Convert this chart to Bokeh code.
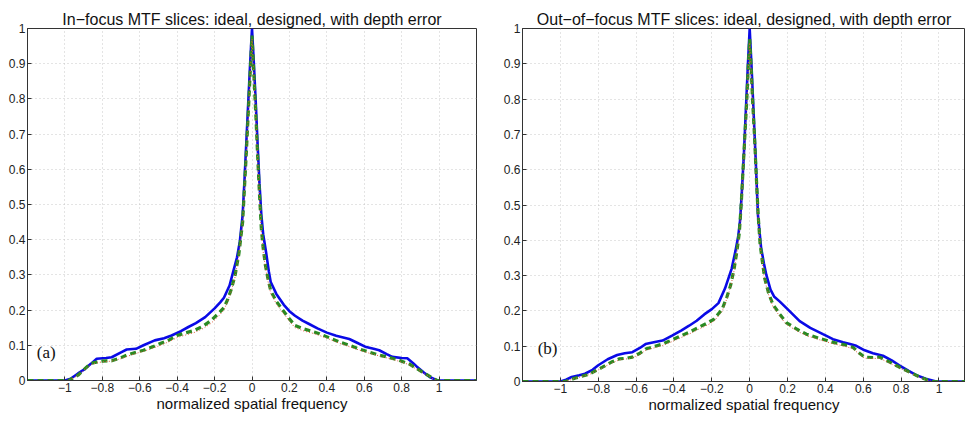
from bokeh.plotting import figure
from bokeh.layouts import row
from bokeh.models import FixedTicker, Range1d, Label
from bokeh.embed import file_html
from bokeh.resources import INLINE

# ---------------- data ----------------
titles = ["In\u2212focus MTF slices: ideal, designed, with depth error",
          "Out\u2212of\u2212focus MTF slices: ideal, designed, with depth error"]
panel_tags = ["(a)", "(b)"]
x_label = "normalized spatial frequency"

x_ticks = [-1, -0.8, -0.6, -0.4, -0.2, 0, 0.2, 0.4, 0.6, 0.8, 1]
x_tick_labels = ["\u22121", "\u22120.8", "\u22120.6", "\u22120.4", "\u22120.2", "0",
                 "0.2", "0.4", "0.6", "0.8", "1"]
y_ticks = [0, 0.1, 0.2, 0.3, 0.4, 0.5, 0.6, 0.7, 0.8, 0.9, 1]
y_tick_labels = ["0", "0.1", "0.2", "0.3", "0.4", "0.5", "0.6", "0.7", "0.8", "0.9", "1"]

# In-focus (a)
a_ideal_x = [-1.2, -1.0, -0.97, -0.93, -0.9, -0.86, -0.83, -0.78, -0.75, -0.7, -0.67, -0.62,
             -0.58, -0.52, -0.47, -0.43, -0.38, -0.34, -0.3, -0.25, -0.2, -0.17, -0.15, -0.12,
             -0.1, -0.08, -0.065, -0.05, -0.04, -0.03, -0.02, -0.01, 0.0,
             0.01, 0.02, 0.03, 0.04, 0.05, 0.06, 0.075, 0.09, 0.1, 0.13, 0.17, 0.2, 0.23, 0.27,
             0.3, 0.35, 0.4, 0.45, 0.52, 0.57, 0.61, 0.65, 0.68, 0.72, 0.75, 0.8, 0.83, 0.86,
             0.88, 0.92, 0.95, 0.99, 1.2]
a_ideal_y = [0, 0, 0.005, 0.02, 0.03, 0.048, 0.062, 0.064, 0.066, 0.08, 0.088, 0.09,
             0.1, 0.114, 0.12, 0.128, 0.14, 0.152, 0.163, 0.18, 0.205, 0.222, 0.235, 0.27,
             0.31, 0.35, 0.395, 0.47, 0.57, 0.68, 0.79, 0.9, 1.0,
             0.9, 0.79, 0.67, 0.56, 0.47, 0.415, 0.365, 0.31, 0.28, 0.246, 0.215, 0.197, 0.184, 0.17,
             0.162, 0.148, 0.136, 0.127, 0.118, 0.105, 0.095, 0.09, 0.086, 0.075, 0.067, 0.064, 0.063, 0.05,
             0.04, 0.022, 0.01, 0, 0]

a_design_x = [-1.2, -0.98, -0.93, -0.88, -0.85, -0.8, -0.75, -0.7, -0.67, -0.62, -0.58, -0.52,
              -0.49, -0.44, -0.4, -0.35, -0.31, -0.26, -0.22, -0.18, -0.15, -0.13, -0.11, -0.09,
              -0.07, -0.05, -0.04, -0.03, -0.02, -0.01, 0.0,
              0.01, 0.02, 0.03, 0.04, 0.05, 0.06, 0.072, 0.085, 0.1, 0.13, 0.16, 0.2, 0.23, 0.28,
              0.32, 0.36, 0.42, 0.47, 0.52, 0.57, 0.63, 0.68, 0.73, 0.79, 0.84, 0.88, 0.93, 0.97,
              0.99, 1.2]
a_design_y = [0, 0, 0.015, 0.04, 0.05, 0.055, 0.056, 0.065, 0.072, 0.08, 0.086, 0.098,
              0.105, 0.116, 0.128, 0.136, 0.142, 0.155, 0.17, 0.19, 0.207, 0.23, 0.26, 0.3,
              0.36, 0.45, 0.55, 0.65, 0.76, 0.87, 0.98,
              0.87, 0.76, 0.64, 0.53, 0.43, 0.375, 0.326, 0.29, 0.255, 0.225, 0.203, 0.175, 0.156, 0.146,
              0.14, 0.133, 0.12, 0.109, 0.1, 0.09, 0.08, 0.072, 0.066, 0.057, 0.047, 0.034, 0.018, 0.005,
              0, 0]

a_error_x = [-1.2, -0.98, -0.93, -0.88, -0.85, -0.8, -0.75, -0.7, -0.67, -0.62, -0.58, -0.52,
             -0.49, -0.44, -0.4, -0.35, -0.31, -0.26, -0.22, -0.18, -0.15, -0.13, -0.11, -0.09,
             -0.07, -0.05, -0.04, -0.03, -0.02, -0.01, 0.0,
             0.01, 0.02, 0.03, 0.04, 0.05, 0.06, 0.072, 0.085, 0.1, 0.13, 0.16, 0.2, 0.23, 0.28,
             0.32, 0.36, 0.42, 0.47, 0.52, 0.57, 0.63, 0.68, 0.73, 0.79, 0.84, 0.88, 0.93, 0.97,
             0.99, 1.2]
a_error_y = [0, 0, 0.014, 0.038, 0.048, 0.053, 0.055, 0.062, 0.068, 0.077, 0.083, 0.094,
             0.1, 0.111, 0.122, 0.13, 0.136, 0.148, 0.162, 0.182, 0.2, 0.225, 0.255, 0.295,
             0.355, 0.445, 0.54, 0.64, 0.75, 0.86, 0.97,
             0.86, 0.75, 0.63, 0.52, 0.42, 0.365, 0.32, 0.283, 0.248, 0.218, 0.196, 0.169, 0.15, 0.14,
             0.135, 0.128, 0.116, 0.105, 0.096, 0.087, 0.077, 0.07, 0.063, 0.054, 0.045, 0.032, 0.017, 0.004,
             0, 0]

# Out-of-focus (b)
b_ideal_x = [-1.2, -1.0, -0.97, -0.94, -0.9, -0.87, -0.83, -0.8, -0.75, -0.7, -0.66, -0.62,
             -0.58, -0.55, -0.5, -0.46, -0.41, -0.36, -0.32, -0.28, -0.24, -0.2, -0.165, -0.13,
             -0.095, -0.075, -0.06, -0.05, -0.04, -0.03, -0.02, -0.01, 0.0,
             0.01, 0.02, 0.03, 0.044, 0.06, 0.075, 0.088, 0.11, 0.13, 0.158, 0.2, 0.264, 0.32,
             0.387, 0.44, 0.493, 0.53, 0.563, 0.6, 0.651, 0.704, 0.75, 0.79, 0.84, 0.88, 0.93,
             0.985, 1.2]
b_ideal_y = [0, 0, 0.005, 0.013, 0.018, 0.022, 0.033, 0.046, 0.063, 0.075, 0.08, 0.083,
             0.095, 0.106, 0.112, 0.116, 0.13, 0.145, 0.158, 0.172, 0.19, 0.205, 0.222, 0.264,
             0.32, 0.37, 0.413, 0.46, 0.55, 0.65, 0.77, 0.89, 1.0,
             0.89, 0.77, 0.65, 0.47, 0.38, 0.335, 0.302, 0.26, 0.24, 0.227, 0.205, 0.171, 0.152,
             0.134, 0.12, 0.111, 0.106, 0.101, 0.09, 0.08, 0.073, 0.06, 0.046, 0.03, 0.018, 0.008,
             0, 0]

b_design_x = [-1.2, -0.975, -0.92, -0.85, -0.78, -0.73, -0.69, -0.65, -0.62, -0.58, -0.55, -0.5,
              -0.46, -0.41, -0.36, -0.31, -0.27, -0.23, -0.19, -0.146, -0.12, -0.1, -0.082,
              -0.068, -0.055, -0.045, -0.035, -0.025, -0.015, -0.007, 0.0,
              0.007, 0.015, 0.025, 0.035, 0.045, 0.055, 0.067, 0.079, 0.1, 0.123, 0.16, 0.193,
              0.25, 0.3, 0.37, 0.44, 0.5, 0.545, 0.58, 0.607, 0.65, 0.686, 0.74, 0.79, 0.85,
              0.897, 0.94, 0.967, 1.2]
b_design_y = [0, 0, 0.01, 0.02, 0.04, 0.055, 0.064, 0.066, 0.069, 0.08, 0.092, 0.1,
              0.106, 0.118, 0.13, 0.142, 0.153, 0.164, 0.176, 0.204, 0.24, 0.274, 0.32,
              0.367, 0.42, 0.5, 0.6, 0.7, 0.8, 0.9, 0.97,
              0.9, 0.8, 0.7, 0.58, 0.47, 0.39, 0.34, 0.293, 0.25, 0.218, 0.19, 0.167,
              0.148, 0.134, 0.122, 0.111, 0.104, 0.097, 0.08, 0.069, 0.068, 0.069, 0.055, 0.041, 0.025,
              0.013, 0.004, 0, 0]

b_error_x = [-1.2, -0.975, -0.92, -0.85, -0.78, -0.73, -0.69, -0.65, -0.62, -0.58, -0.55, -0.5,
             -0.46, -0.41, -0.36, -0.31, -0.27, -0.23, -0.19, -0.146, -0.12, -0.1, -0.082,
             -0.068, -0.055, -0.045, -0.035, -0.025, -0.015, -0.007, 0.0,
             0.007, 0.015, 0.025, 0.035, 0.045, 0.055, 0.067, 0.079, 0.1, 0.123, 0.16, 0.193,
             0.25, 0.3, 0.37, 0.44, 0.5, 0.545, 0.58, 0.607, 0.65, 0.686, 0.74, 0.79, 0.85,
             0.897, 0.94, 0.967, 1.2]
b_error_y = [0, 0, 0.009, 0.019, 0.038, 0.052, 0.061, 0.064, 0.067, 0.077, 0.088, 0.096,
             0.102, 0.113, 0.125, 0.137, 0.148, 0.158, 0.17, 0.198, 0.235, 0.27, 0.315,
             0.362, 0.415, 0.49, 0.59, 0.69, 0.79, 0.89, 0.96,
             0.89, 0.79, 0.69, 0.57, 0.46, 0.385, 0.335, 0.288, 0.245, 0.212, 0.184, 0.162,
             0.143, 0.13, 0.118, 0.107, 0.1, 0.093, 0.077, 0.066, 0.065, 0.066, 0.052, 0.039, 0.023,
             0.012, 0.003, 0, 0]

FONT = "Liberation Sans"


def make_panel(title, tag, tag_xy, ideal, design, error, x_end, width, height,
               border_left, border_right, border_top, border_bottom, title_offset):
    p = figure(width=width, height=height,
               x_range=Range1d(-1.2, x_end), y_range=Range1d(0, 1),
               output_backend="svg", toolbar_location=None,
               min_border_left=border_left, min_border_right=border_right,
               min_border_top=border_top, min_border_bottom=border_bottom)
    p.background_fill_color = "white"
    p.border_fill_color = "white"
    p.outline_line_color = "#333333"
    p.outline_line_width = 1

    p.title.text = title
    p.title.text_font = FONT
    p.title.text_font_size = "16px"
    p.title.text_font_style = "normal"
    p.title.text_color = "#111111"
    p.title.align = "center"
    p.title.standoff = 2
    p.title.offset = title_offset

    xa = p.xaxis[0]
    xa.ticker = FixedTicker(ticks=x_ticks)
    xa.major_label_overrides = {t: l for t, l in zip(x_ticks, x_tick_labels)}
    ya = p.yaxis[0]
    ya.ticker = FixedTicker(ticks=y_ticks)
    ya.major_label_overrides = {t: l for t, l in zip(y_ticks, y_tick_labels)}
    for ax in (xa, ya):
        ax.major_tick_in = 4
        ax.major_tick_out = 0
        ax.minor_tick_in = 0
        ax.minor_tick_out = 0
        ax.axis_line_color = "#333333"
        ax.major_tick_line_color = "#333333"
        ax.major_label_text_font = FONT
        ax.major_label_text_font_size = "12px"
        ax.major_label_text_color = "#222222"
        ax.major_label_standoff = 2
    xa.axis_label = x_label
    xa.axis_label_text_font = FONT
    xa.axis_label_text_font_size = "15px"
    xa.axis_label_text_font_style = "normal"
    xa.axis_label_text_color = "#111111"
    xa.axis_label_standoff = 0

    p.xgrid.ticker = FixedTicker(ticks=x_ticks)
    p.ygrid.ticker = FixedTicker(ticks=y_ticks)
    for g in (p.xgrid[0], p.ygrid[0]):
        g.grid_line_color = "#bdbdbd"
        g.grid_line_dash = "1 3"
        g.grid_line_width = 1
        g.grid_line_alpha = 0.8

    p.line(ideal[0], ideal[1], line_color="#0a0ae6", line_width=2.6)
    p.line(design[0], design[1], line_color="#2a8a22", line_width=3.2, line_dash="6 4")
    p.line(error[0], error[1], line_color="#e0573a", line_width=1, line_dash="1 2")

    p.add_layout(Label(x=tag_xy[0], y=tag_xy[1], text=tag, text_font="Liberation Serif",
                       text_font_size="17px", text_baseline="middle", text_align="left",
                       text_color="#111111"))
    return p


p1 = make_panel(titles[0], panel_tags[0], (-1.15, 0.08),
                (a_ideal_x, a_ideal_y), (a_design_x, a_design_y), (a_error_x, a_error_y),
                1.2, 486, 416, 27, 10, 26, 36, 0)
p2 = make_panel(titles[1], panel_tags[1], (-1.12, 0.094),
                (b_ideal_x, b_ideal_y), (b_design_x, b_design_y), (b_error_x, b_error_y),
                1.14, 479, 417, 36, 0, 28, 36, 8)

layout = row(p1, p2, spacing=0)
open("out.html", "w").write(file_html(layout, INLINE))
